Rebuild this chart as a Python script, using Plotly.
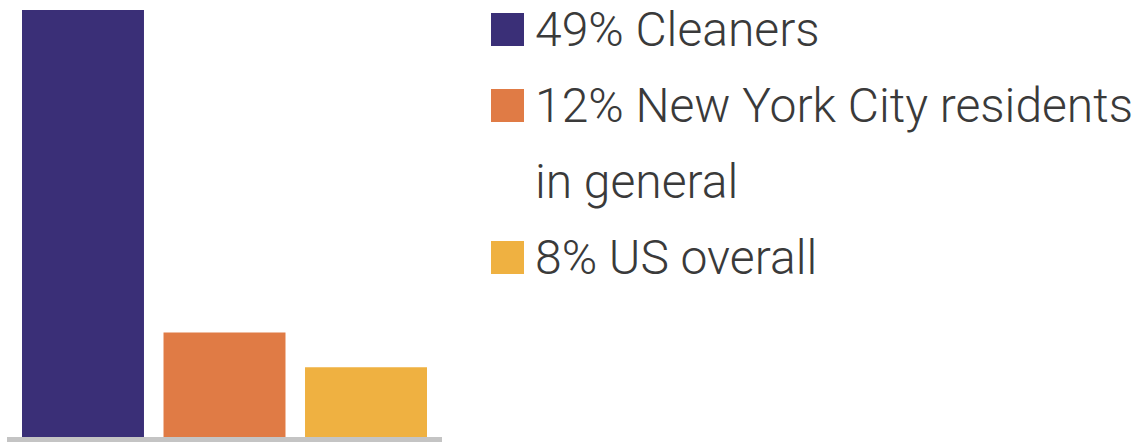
import plotly.graph_objects as go

W, H = 1145, 442

categories = ["Cleaners", "New York City residents in general", "US overall"]
values = [49, 12, 8]
colors = ["#3a2f77", "#e07b45", "#efb141"]
legend_lines = [
    ["49% Cleaners"],
    ["12% New York City residents", "in general"],
    ["8% US overall"],
]

def px_x(x):
    return x / W

def px_y(y):
    return (H - y) / H

fig = go.Figure()
fig.add_trace(go.Bar(
    x=categories, y=values,
    marker=dict(color=colors, line=dict(width=0)),
    width=0.862, showlegend=False, hoverinfo="skip",
))

shapes = []
annotations = []
# baseline
shapes.append(dict(type="rect", xref="paper", yref="paper",
                   x0=px_x(7), x1=px_x(442), y0=px_y(442), y1=px_y(437),
                   fillcolor="#c4c4c4", line=dict(width=0), layer="above"))

row_h = 76
y0 = 29.5
row = 0
for i, lines in enumerate(legend_lines):
    yc = y0 + row * row_h
    shapes.append(dict(type="rect", xref="paper", yref="paper",
                       x0=px_x(491), x1=px_x(524),
                       y0=px_y(yc + 16.5), y1=px_y(yc - 16.5),
                       fillcolor=colors[i], line=dict(width=0)))
    for ln in lines:
        yc = y0 + row * row_h
        annotations.append(dict(
            text=ln, xref="paper", yref="paper", x=px_x(533), y=px_y(yc),
            xanchor="left", yanchor="middle", showarrow=False,
            font=dict(family="Roboto", size=48, color="#3a3a3a", weight=300),
        ))
        row += 1

fig.update_layout(
    width=W, height=H,
    margin=dict(l=0, r=0, t=0, b=0),
    paper_bgcolor="white", plot_bgcolor="white",
    xaxis=dict(domain=[px_x(7), px_x(442)], range=[-0.537, 2.537],
               showticklabels=False, showgrid=False, zeroline=False,
               showline=False, ticks=""),
    yaxis=dict(domain=[px_y(437), px_y(10)], range=[0, 49],
               showticklabels=False, showgrid=False, zeroline=False,
               showline=False, ticks=""),
    shapes=shapes, annotations=annotations,
)

fig.write_html("out.html", config={"displayModeBar": False, "staticPlot": True})

with open("out.html", "r", encoding="utf-8") as f:
    html = f.read()
html = html.replace("<body>", '<body style="margin:0;padding:0;overflow:hidden">', 1)
with open("out.html", "w", encoding="utf-8") as f:
    f.write(html)
